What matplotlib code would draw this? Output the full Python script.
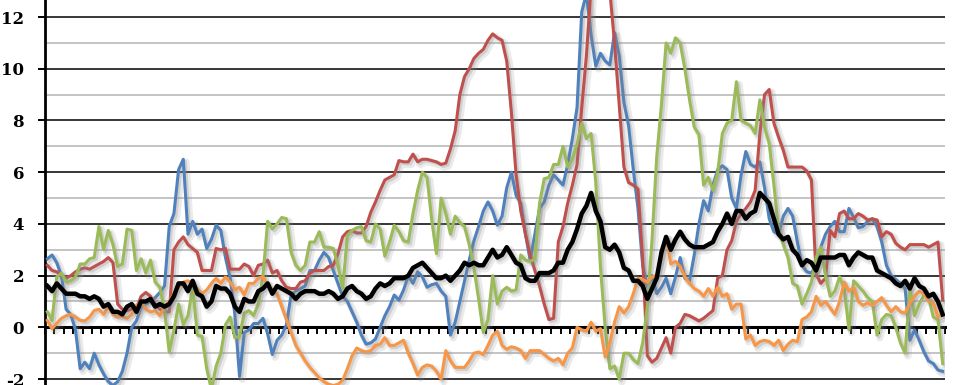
import matplotlib
matplotlib.use("Agg")
import matplotlib.pyplot as plt
import matplotlib.patheffects as pe
from matplotlib.ticker import MultipleLocator
import numpy as np

# monthly values, Jan 1999 .. Dec 2014 (one row per year)
black_cpi = [
    1.6, 1.4, 1.7, 1.5, 1.3, 1.3, 1.3, 1.2, 1.2, 1.1, 1.2, 1.1,
    0.8, 0.9, 0.6, 0.6, 0.5, 0.8, 0.9, 0.6, 1.0, 1.0, 1.1, 0.8,
    0.9, 0.8, 0.9, 1.2, 1.7, 1.7, 1.4, 1.8, 1.3, 1.2, 0.8, 1.0,
    1.6, 1.5, 1.5, 1.3, 0.8, 0.6, 1.1, 1.0, 1.0, 1.4, 1.5, 1.7,
    1.3, 1.6, 1.5, 1.4, 1.3, 1.1, 1.3, 1.4, 1.4, 1.4, 1.3, 1.3,
    1.4, 1.3, 1.1, 1.2, 1.5, 1.6, 1.4, 1.3, 1.1, 1.2, 1.5, 1.7,
    1.6, 1.7, 1.9, 1.9, 1.9, 2.0, 2.3, 2.4, 2.5, 2.3, 2.1, 1.9,
    1.9, 2.0, 1.8, 2.0, 2.2, 2.5, 2.4, 2.5, 2.4, 2.4, 2.7, 3.0,
    2.7, 2.8, 3.1, 2.8, 2.5, 2.4, 1.9, 1.8, 1.8, 2.1, 2.1, 2.1,
    2.2, 2.5, 2.5, 3.0, 3.3, 3.8, 4.4, 4.7, 5.2, 4.5, 4.1, 3.1,
    3.0, 3.2, 2.9, 2.3, 2.2, 1.8, 1.8, 1.6, 1.1, 1.5, 1.9, 2.9,
    3.5, 3.0, 3.4, 3.7, 3.4, 3.2, 3.1, 3.1, 3.1, 3.2, 3.3, 3.7,
    4.0, 4.4, 4.0, 4.5, 4.5, 4.2, 4.4, 4.5, 5.2, 5.0, 4.8, 4.2,
    3.6, 3.4, 3.5, 3.0, 2.8, 2.4, 2.6, 2.5, 2.2, 2.7, 2.7, 2.7,
    2.7, 2.8, 2.8, 2.4, 2.7, 2.9, 2.8, 2.7, 2.7, 2.2, 2.1, 2.0,
    1.9, 1.7, 1.6, 1.8, 1.5, 1.9, 1.6, 1.5, 1.2, 1.3, 1.0, 0.5,
]

blue_vals = [
    2.65, 2.8, 2.5, 2.0, 0.7, 0.5, -0.1, -1.6, -1.35, -1.6, -1.0, -1.45,
    -1.8, -2.1, -2.25, -2.1, -1.7, -1.0, 0.0, 0.25, 0.8, 0.9, 1.0, 1.15,
    1.35, 1.6, 3.9, 4.4, 6.1, 6.5, 3.6, 4.1, 3.6, 3.8, 3.05, 3.4,
    3.95, 3.75, 2.7, 1.9, 0.5, -1.9, -0.2, -0.1, 0.15, 0.15, 0.35, -0.25,
    -1.05, -0.5, -0.3, 0.1, 1.25, 1.4, 1.5, 1.6, 2.2, 2.2, 2.6, 2.9,
    2.7, 2.2, 1.7, 1.2, 1.0, 0.6, 0.2, -0.3, -0.65, -0.6, -0.45, 0.0,
    0.45, 0.8, 1.25, 1.05, 1.45, 2.0, 1.7, 2.15, 1.95, 1.55, 1.65, 1.7,
    1.4, 1.2, -0.3, 0.2, 1.0, 1.8, 2.6, 3.35, 3.9, 4.5, 4.85, 4.5,
    3.95, 4.3, 5.4, 6.0, 5.1, 4.8, 3.6, 2.6, 3.6, 4.6, 4.85, 5.5,
    5.9, 5.7, 5.5, 6.3, 7.3, 8.5, 12.2, 12.9, 11.3, 10.1, 10.6, 10.3,
    10.15, 11.4, 10.5, 8.7, 7.8, 6.1, 4.6, 2.4, 1.55, 2.0, 1.3, 1.55,
    1.9, 1.3, 1.95, 2.7, 1.9, 1.8, 2.8, 4.0, 4.9, 4.5, 5.5, 6.1,
    6.25, 6.1, 5.0, 4.6, 5.9, 6.8, 6.3, 6.2, 6.4, 5.4, 4.2, 3.7,
    3.6, 4.3, 4.6, 4.3, 3.3, 2.4, 2.15, 2.1, 2.4, 3.1, 3.6, 3.9,
    4.1, 3.7, 3.7, 4.6, 4.25, 3.85, 3.9, 4.1, 4.2, 3.9, 3.3, 2.4,
    2.0, 1.85, 1.7, 1.5, -0.5, -0.1, -0.5, -0.95, -1.3, -1.4, -1.65, -1.7,
]

red_vals = [
    2.4, 2.2, 2.15, 2.0, 1.9, 2.0, 2.15, 2.25, 2.3, 2.25, 2.35, 2.45,
    2.55, 2.7, 2.5, 0.9, 0.7, 0.65, 0.7, 0.75, 1.2, 1.35, 1.2, 0.9,
    0.7, 0.6, 0.6, 3.0, 3.3, 3.5, 3.2, 3.05, 2.9, 2.2, 2.2, 2.2,
    3.05, 3.0, 3.05, 2.25, 2.25, 2.25, 2.45, 2.35, 2.0, 2.4, 2.45, 2.6,
    2.1, 2.2, 1.8, 1.55, 1.5, 1.5, 1.75, 1.8, 2.1, 2.2, 2.2, 2.2,
    2.35, 2.4, 2.85, 3.5, 3.7, 3.75, 3.65, 3.65, 3.9, 4.45, 4.85, 5.3,
    5.7, 5.8, 5.9, 6.45, 6.4, 6.4, 6.7, 6.4, 6.5, 6.5, 6.45, 6.4,
    6.3, 6.35, 6.9, 7.6, 9.0, 9.7, 10.0, 10.4, 10.6, 10.75, 11.1, 11.35,
    11.2, 11.1, 10.3, 8.3, 5.9, 4.5, 3.6, 2.8, 2.2, 1.6, 0.9, 0.3,
    0.35, 3.3, 3.9, 4.8, 5.5, 6.3, 8.5, 10.5, 13.2, 13.8, 14.0, 13.8,
    13.0, 11.0, 8.6, 6.2, 5.6, 5.5, 5.35, 2.6, -1.1, -1.35, -1.2, -0.8,
    -0.4, -1.0, 0.0, 0.15, 0.5, 0.45, 0.35, 0.25, 0.35, 0.5, 0.65, 1.9,
    2.0, 3.0, 3.35, 4.1, 4.4, 4.6, 4.85, 5.3, 7.5, 9.0, 9.2, 7.9,
    7.35, 6.85, 6.2, 6.2, 6.2, 6.2, 6.05, 5.7, 2.05, 1.7, 1.9, 3.75,
    3.5, 4.4, 4.5, 4.2, 4.2, 4.4, 4.3, 4.15, 4.2, 4.15, 3.5, 3.7,
    3.6, 3.25, 3.1, 3.0, 3.2, 3.2, 3.2, 3.2, 3.1, 3.2, 3.3, 1.05,
]

green_vals = [
    0.6, 0.27, 1.95, 2.1, 1.75, 1.8, 1.95, 2.45, 2.45, 2.65, 2.7, 3.9,
    3.0, 3.75, 3.2, 2.35, 2.45, 3.8, 3.75, 2.2, 2.65, 2.1, 2.6, 1.75,
    1.55, 0.65, -0.95, -0.1, 0.9, 0.1, 0.45, 1.55, -0.3, -0.35, -1.6, -2.4,
    -1.5, -1.0, 0.1, 0.4, -0.4, -0.35, 0.55, 0.65, 0.45, 0.9, 2.0, 4.1,
    3.8, 4.0, 4.25, 4.2, 2.9, 2.4, 2.2, 2.4, 3.3, 3.3, 3.7, 3.1,
    3.1, 3.05, 2.4, 1.5, 3.55, 3.75, 3.85, 3.9, 3.35, 3.3, 4.0, 3.8,
    2.75, 3.3, 3.95, 3.7, 3.35, 3.3, 4.4, 5.3, 6.0, 5.8, 4.15, 2.85,
    5.0, 4.4, 3.6, 4.3, 4.05, 3.9, 3.2, 2.3, 1.1, -0.2, 0.3, 2.0,
    0.9, 1.4, 1.55, 1.4, 1.45, 2.8, 2.6, 2.55, 2.65, 4.8, 5.75, 5.8,
    6.3, 6.3, 7.0, 6.2, 6.5, 7.1, 7.9, 7.3, 7.5, 5.6, 2.3, 0.0,
    -1.6, -1.5, -2.0, -1.0, -1.0, -1.25, -1.4, -0.6, 0.8, 3.4, 6.6, 8.6,
    11.0, 10.6, 11.2, 11.0, 10.0, 8.8, 7.75, 7.45, 5.5, 5.8, 5.3, 6.0,
    7.5, 7.9, 8.0, 9.5, 8.0, 7.9, 7.8, 7.5, 8.8, 7.75, 7.1, 5.5,
    3.75, 3.2, 2.7, 1.7, 1.6, 0.9, 1.3, 1.75, 2.7, 3.1, 2.0, 1.2,
    1.4, 1.95, 1.5, -0.1, 1.8, 1.6, 1.4, 1.15, 1.0, -0.3, 0.3, 0.5,
    0.45, 0.0, -0.6, -1.0, 1.55, 0.45, 0.9, 1.25, 1.15, 0.4, 0.3, -1.4,
]

orange_vals = [
    0.27, -0.05, 0.15, 0.35, 0.45, 0.5, 0.4, 0.27, 0.25, 0.4, 0.65, 0.7,
    0.5, 0.8, 0.5, 0.4, 0.42, 0.35, 0.5, 0.85, 1.0, 0.7, 0.6, 0.65,
    0.45, 0.8, 1.0, 1.3, 1.55, 1.75, 1.8, 1.7, 1.5, 1.3, 1.45, 1.7,
    1.9, 1.7, 1.95, 1.75, 1.45, 1.55, 1.25, 1.7, 1.7, 1.9, 1.95, 1.6,
    1.45, 1.3, 0.8, 0.3, -0.2, -0.7, -1.0, -1.3, -1.55, -1.75, -1.95, -2.1,
    -2.2, -2.25, -2.2, -2.05, -1.6, -1.1, -0.8, -0.9, -0.95, -0.9, -0.7, -0.65,
    -0.4, -0.7, -0.7, -0.6, -0.5, -1.0, -1.4, -1.85, -1.55, -1.45, -1.5, -1.7,
    -2.0, -0.9, -1.3, -1.55, -1.55, -1.55, -1.3, -1.0, -0.95, -1.05, -0.7, -0.3,
    -0.15, -0.7, -0.85, -0.75, -0.8, -0.9, -1.2, -0.9, -0.9, -0.9, -1.05, -1.2,
    -1.3, -1.2, -1.45, -1.0, -0.8, 0.0, -0.1, -0.15, 0.2, -0.15, -0.05, -1.15,
    -0.6, 0.2, 0.8, 0.55, 0.8, 1.3, 1.9, 1.85, 1.75, 1.95, 2.0, 2.7,
    3.5, 2.45, 2.55, 2.35, 1.95, 1.7, 1.5, 1.4, 1.2, 1.5, 1.2, 1.55,
    1.2, 1.3, 0.7, 0.9, 0.9, -0.45, -0.3, -0.7, -0.55, -0.5, -0.55, -0.7,
    -0.5, -0.9, -0.65, -0.5, -0.55, 0.3, 0.4, 0.6, 1.2, 0.85, 1.0, 0.75,
    0.5, 1.0, 1.75, 1.4, 1.55, 1.0, 0.85, 0.95, 0.85, 1.0, 1.15, 0.85,
    0.6, 0.8, 0.6, 0.55, 0.95, 1.2, 1.4, 1.3, 1.0, 0.95, 0.4, 0.5,
]

y_ticks = [-2, 0, 2, 4, 6, 8, 10, 12]

months = np.arange(len(black_cpi))

fig = plt.figure(figsize=(9.67, 3.85), dpi=100)
ax = fig.add_axes([45 / 967, 0, 900 / 967, 1])
ax.set_xlim(-0.5, len(months) - 0.5)
ax.set_ylim(-2.23, 12.66)

# grid: black every 2, grey in between
ax.yaxis.set_major_locator(MultipleLocator(2))
ax.yaxis.set_minor_locator(MultipleLocator(1))
ax.grid(True, axis="y", which="major", color="black", lw=1.1, zorder=0)
ax.grid(True, axis="y", which="minor", color="#b4b4b4", lw=1.1, zorder=0)
ax.set_axisbelow(True)

ax.spines["top"].set_visible(False)
ax.spines["right"].set_visible(False)
ax.spines["left"].set_linewidth(2.0)
ax.spines["bottom"].set_position(("data", 0))
ax.spines["bottom"].set_linewidth(2.2)

ax.set_yticks(y_ticks)
ax.set_yticklabels([str(t) for t in y_ticks], fontfamily="DejaVu Serif",
                   fontweight="bold", fontsize=12)
ax.tick_params(axis="y", which="major", direction="out", length=5, width=1.4, pad=10)
ax.tick_params(axis="y", which="minor", length=0)

ax.set_xticks(np.arange(-0.5, len(months), 2))
ax.tick_params(axis="x", direction="out", length=5, width=1.4, labelbottom=False)


def shadow(lw):
    return [
        pe.SimpleLineShadow(offset=(2, -2), shadow_color="#909090", alpha=0.18, linewidth=lw + 3),
        pe.SimpleLineShadow(offset=(1.5, -1.5), shadow_color="#808080", alpha=0.25, linewidth=lw),
        pe.Normal(),
    ]


lines = [
    (blue_vals, "#4F81BD", 2.2),
    (red_vals, "#C0504D", 2.2),
    (green_vals, "#9BBB59", 2.2),
    (orange_vals, "#F79646", 2.2),
    (black_cpi, "black", 3.2),
]
for i, (vals, col, lw) in enumerate(lines):
    ax.plot(months, vals, color=col, lw=lw, zorder=3 + i,
            solid_joinstyle="round", path_effects=shadow(lw))

fig.savefig("out.png", dpi=100)
